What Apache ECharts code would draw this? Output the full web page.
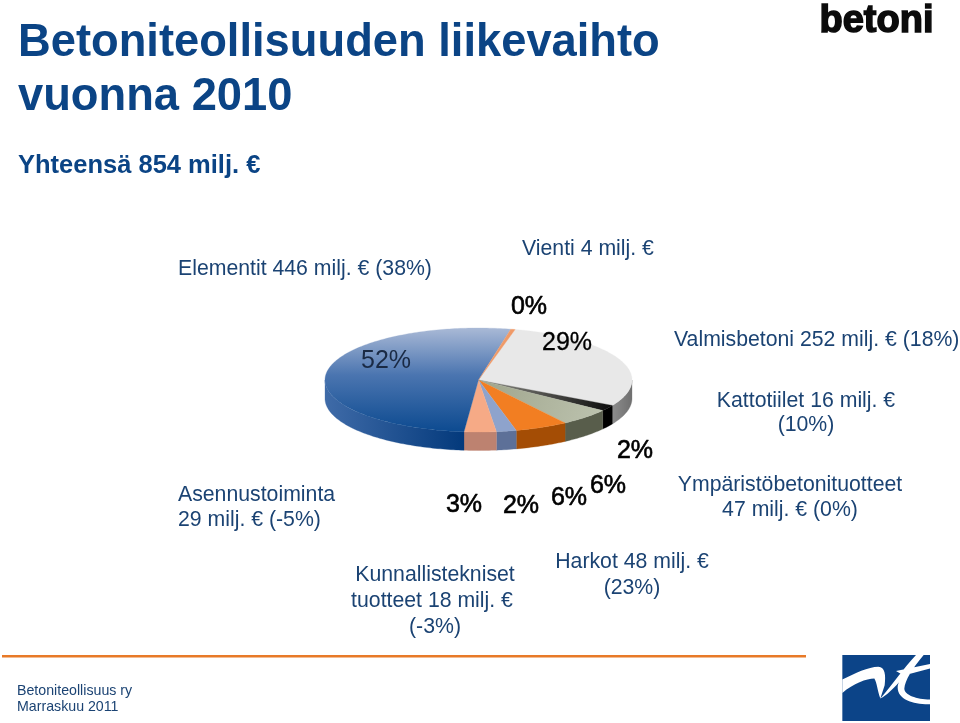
<!DOCTYPE html>
<html><head><meta charset="utf-8">
<style>html,body{margin:0;padding:0;background:#fff}#c{width:960px;height:723px}</style>
<script src="https://cdn.jsdelivr.net/npm/echarts@6/dist/echarts.min.js"></script>
</head><body><div id="c"></div>
<script>
// Data, clockwise from the top of the pie
const categories = ['Valmisbetoni','Kattotiilet','Ympäristöbetonituotteet','Harkot','Kunnallistekniset tuotteet','Asennustoiminta','Elementit','Vienti'];
const revenueMilj = [252,16,47,48,18,29,446,4];
const percentLabels = ['29%','2%','6%','6%','2%','3%','52%','0%'];

// Styling and placement, kept apart from the data
const FONT = '"Liberation Sans", Arial, sans-serif';
const NAVY = '#1b4373', TITLE = '#0b4485';
const START_DEG = 13.8, CX = 478.5, CY = 380, RX = 153.5, RY = 52, DEPTH = 18.5;
const labelSpots = [[567,343],[635,451],[608,486],[569,498],[521,506],[464,505],[386,361],[529,307]];
const g = (x,y,x2,y2,a,b)=>({type:'linear',x,y,x2,y2,global:true,colorStops:[{offset:0,color:a},{offset:1,color:b}]});
const blueTop = {type:'linear',x:0,y:CY-RY,x2:0,y2:CY+RY,global:true,colorStops:[{offset:0,color:'#a9b9d6'},{offset:.45,color:'#4b75b0'},{offset:1,color:'#0c4a90'}]};
const topFills = ['#e8e8e8', g(480,380,612,407,'#8f8f88','#0c0c0c'), g(480,380,600,420,'#9fa58c','#bcc2ae'), '#f27e22','#8ea3cc','#f6aa86', blueTop,'#ef9a68'];
const sideFills = [g(612,0,632,0,'#8d8d8d','#6f6f6f'),'#000000','#585d4b','#a44d05','#5d7098','#bd8270', g(325,0,465,0,'#3f6ba8','#03397b'),'#ef9a68'];

const total = revenueMilj.reduce((a,b)=>a+b,0);
const angleAt = [];
revenueMilj.reduce((acc,v,i)=>{angleAt[i]=[acc,acc+v/total*360];return acc+v/total*360;},START_DEG);
const pt = (deg,dy=0)=>{const r=deg*Math.PI/180;return [CX+RX*Math.sin(r),CY-RY*Math.cos(r)+dy];};
function arc(a,b,dy){const out=[];const n=Math.max(2,Math.ceil(Math.abs(b-a)));for(let k=0;k<=n;k++)out.push(pt(a+(b-a)*k/n,dy));return out;}

function renderSlice(params,api){
  const i=api.value(0);const [a,b]=angleAt[i];const children=[];
  [[a,b],[a-360,b-360]].forEach(([p,q])=>{
    const s=Math.max(p,90),e=Math.min(q,270);
    if(e>s){children.push({type:'polygon',shape:{points:arc(s,e,0).concat(arc(e,s,DEPTH))},style:{fill:sideFills[i],stroke:sideFills[i],lineWidth:.3}});}
  });
  children.push({type:'polygon',z2:2,shape:{points:[[CX,CY]].concat(arc(a,b,0))},style:{fill:topFills[i],stroke:topFills[i],lineWidth:.3}});
  const [lx,ly]=labelSpots[i];
  const inner=i===6;
  children.push({type:'text',z2:5,style:{text:percentLabels[i],x:lx,y:ly,align:'center',verticalAlign:'middle',font:'25px '+FONT,fill:inner?'#1a2a44':'#000',stroke:inner?'transparent':'#000',lineWidth:i===0?.3:.6}});
  return {type:'group',children};
}
// NT logo swoosh
function renderLogo(){
  return {type:'group',x:835,y:650,scaleX:1/3,scaleY:1/3,children:[
    {type:'rect',shape:{x:22,y:15,width:263,height:198},style:{fill:'#0c4488'}},
    {type:'path',z2:2,shape:{pathData:'M22 88C60 70 100 50 130 50C150 50 153 75 149 105L136 145C127 120 126 98 118 85C95 85 55 100 22 128Z M136 145C168 108 205 55 243 15L266 15C232 55 210 90 208 115C208 135 245 147 285 148L285 162C235 163 188 148 188 112C188 104 190 100 192 96C175 115 155 135 136 145Z M183 63L285 42L285 55L206 76Z',x:22,y:15,width:263,height:148,layout:'cover'},style:{fill:'#fff'}}
  ]};
}

const T=(text,x,y,size,opt={})=>({type:'text',style:Object.assign({text,x,y,font:(opt.bold?'bold ':'')+size+'px '+FONT,fill:opt.fill||NAVY,textAlign:opt.align||'left',textVerticalAlign:'middle',verticalAlign:'middle'},opt.extra||{})});
const C={align:'center'};
const texts=[
 T('Betoniteollisuuden liikevaihto',18,44,45.3,{bold:true,fill:TITLE}),
 T('vuonna 2010',18,98,45.3,{bold:true,fill:TITLE}),
 T('Yhteensä 854 milj. €',18,166,25.5,{bold:true,fill:TITLE}),
 T('Elementit 446 milj. € (38%)',178,269,21.25),
 T('Vienti 4 milj. €',522,249,21.25),
 T('Valmisbetoni 252 milj. € (18%)',674,340,21.25),
 T('Kattotiilet 16 milj. €',806,401,21.25,C),
 T('(10%)',806,425,21.25,C),
 T('Ympäristöbetonituotteet',790,485,21.25,C),
 T('47 milj. € (0%)',790,510,21.25,C),
 T('Asennustoiminta',178,495,21.25),
 T('29 milj. € (-5%)',178,520,21.25),
 T('Kunnallistekniset',435,575,21.25,C),
 T('tuotteet 18 milj. €',432,601,21.25,C),
 T('(-3%)',435,627,21.25,C),
 T('Harkot 48 milj. €',632,562,21.25,C),
 T('(23%)',632,588,21.25,C),
 T('Betoniteollisuus ry',17,691,14.2),
 T('Marraskuu 2011',17,707,14.2),
 {type:'text',style:{text:'betoni',x:876.5,y:22,font:'bold 38px '+FONT,fill:'#0b0b0b',stroke:'#0b0b0b',lineWidth:1.5,textAlign:'center',textVerticalAlign:'middle',verticalAlign:'middle'}},
 {type:'rect',shape:{x:2,y:655,width:804,height:2.6},style:{fill:'#e87a28'}}
];

const chart=echarts.init(document.getElementById('c'),null,{renderer:'canvas'});
chart.setOption({
  animation:false,backgroundColor:'#fff',
  graphic:{elements:texts},
  series:[
   {type:'custom',coordinateSystem:'none',renderItem:renderSlice,encode:{value:1},
    data:categories.map((name,i)=>({name,value:[i,revenueMilj[i]]})),silent:true},
   {type:'custom',coordinateSystem:'none',renderItem:renderLogo,data:[[0]],silent:true}
  ]
});
</script></body></html>
